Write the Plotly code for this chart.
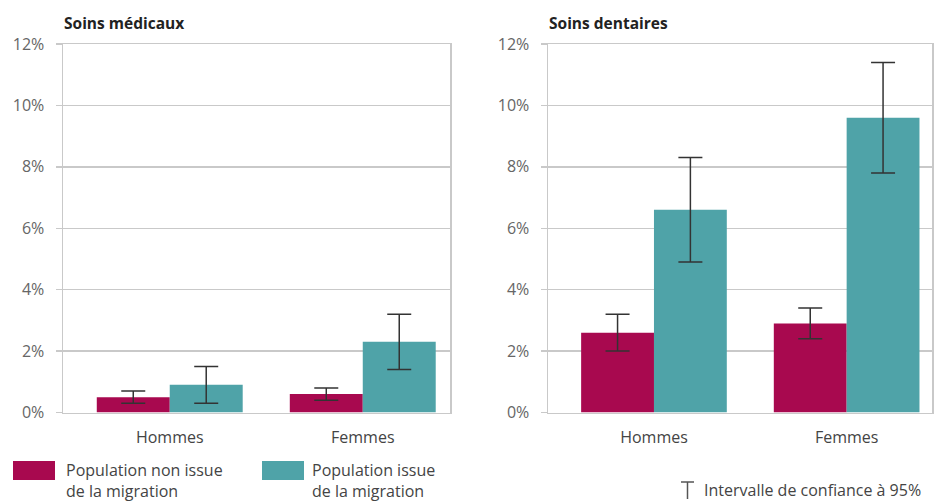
import plotly.graph_objects as go

categories = ["Hommes", "Femmes"]
series_names = ["Population non issue<br>de la migration", "Population issue<br>de la migration"]

# Soins médicaux (%)
med_non_mig = [0.5, 0.6]
med_non_mig_lo = [0.3, 0.4]
med_non_mig_hi = [0.7, 0.8]
med_mig = [0.9, 2.3]
med_mig_lo = [0.3, 1.4]
med_mig_hi = [1.5, 3.2]

# Soins dentaires (%)
den_non_mig = [2.6, 2.9]
den_non_mig_lo = [2.0, 2.4]
den_non_mig_hi = [3.2, 3.4]
den_mig = [6.6, 9.6]
den_mig_lo = [4.9, 7.8]
den_mig_hi = [8.3, 11.4]

y_ticks = [0, 2, 4, 6, 8, 10, 12]
y_tick_labels = ["0%", "2%", "4%", "6%", "8%", "10%", "12%"]

MAGENTA = "#A8094F"
TEAL = "#4FA3A8"
W, H = 934, 501
FONT = "Open Sans"
FS = 16

fig = go.Figure()

def add_bars(vals, lo, hi, color, xa, ya):
    fig.add_trace(go.Bar(
        x=categories, y=vals, marker=dict(color=color, line=dict(width=0)),
        error_y=dict(type="data", symmetric=False,
                     array=[h - v for h, v in zip(hi, vals)],
                     arrayminus=[v - l for v, l in zip(vals, lo)],
                     color="#333333", thickness=1.5, width=12),
        xaxis=xa, yaxis=ya, showlegend=False, hoverinfo="skip"))

add_bars(med_non_mig, med_non_mig_lo, med_non_mig_hi, MAGENTA, "x", "y")
add_bars(med_mig, med_mig_lo, med_mig_hi, TEAL, "x", "y")
add_bars(den_non_mig, den_non_mig_lo, den_non_mig_hi, MAGENTA, "x2", "y2")
add_bars(den_mig, den_mig_lo, den_mig_hi, TEAL, "x2", "y2")

grid = "#c9c9c9"
ydom = [1 - 412.5 / H, 1 - 44 / H]
xcommon = dict(showgrid=False, showline=True, linecolor=grid, linewidth=1.5, mirror=True,
               ticks="", tickfont=dict(family=FONT, size=FS, color="#444"), fixedrange=True,
               zeroline=False, automargin=False, ticklabelstandoff=10)
ycommon = dict(range=[0, 12], tickvals=y_ticks, ticktext=y_tick_labels, showgrid=True,
               gridcolor=grid, gridwidth=1.5, showline=True, linecolor=grid, linewidth=1.5,
               mirror=True, ticks="outside", ticklen=6, tickcolor=grid, tickwidth=1.5,
               tickfont=dict(family=FONT, size=FS, color="#666"), zeroline=False, domain=ydom,
               automargin=False, ticklabelstandoff=8, fixedrange=True)

fig.update_layout(
    width=W, height=H, margin=dict(l=0, r=0, t=0, b=0, autoexpand=False),
    paper_bgcolor="white", plot_bgcolor="white",
    barmode="group", bargap=0.244, bargroupgap=0,
    xaxis=dict(domain=[63 / W, 450 / W], range=[-0.553, 1.452], anchor="y", **xcommon),
    yaxis=dict(anchor="x", **ycommon),
    xaxis2=dict(domain=[548 / W, 932 / W], range=[-0.55, 1.443], anchor="y2", **xcommon),
    yaxis2=dict(anchor="x2", **ycommon),
    showlegend=False,
)

annots = [
    dict(text="<b>Soins médicaux</b>", x=62 / W, y=1 - 23 / H, xanchor="left", yanchor="middle",
         font=dict(family=FONT, size=FS - 0.5, color="#222")),
    dict(text="<b>Soins dentaires</b>", x=547 / W, y=1 - 23 / H, xanchor="left", yanchor="middle",
         font=dict(family=FONT, size=FS - 0.5, color="#222")),
    dict(text=series_names[0], x=64 / W, y=1 - 480 / H, xanchor="left", yanchor="middle", align="left",
         font=dict(family=FONT, size=FS, color="#444")),
    dict(text=series_names[1], x=310 / W, y=1 - 480 / H, xanchor="left", yanchor="middle", align="left",
         font=dict(family=FONT, size=FS, color="#444")),
    dict(text="Intervalle de confiance à 95%", x=702 / W, y=1 - 489.5 / H, xanchor="left", yanchor="middle",
         font=dict(family=FONT, size=FS, color="#444")),
]
for a in annots:
    a.update(xref="paper", yref="paper", showarrow=False)
fig.update_layout(annotations=annots)

shapes = [
    dict(type="rect", x0=13 / W, x1=55 / W, y0=1 - 480 / H, y1=1 - 461 / H, fillcolor=MAGENTA, line=dict(width=0)),
    dict(type="rect", x0=262 / W, x1=304 / W, y0=1 - 480 / H, y1=1 - 461 / H, fillcolor=TEAL, line=dict(width=0)),
    dict(type="line", x0=681 / W, x1=694 / W, y0=1 - 482 / H, y1=1 - 482 / H, line=dict(color="#555", width=1.5)),
    dict(type="line", x0=687.5 / W, x1=687.5 / W, y0=1 - 482 / H, y1=1 - 499 / H, line=dict(color="#555", width=1.5)),
]
for s in shapes:
    s.update(xref="paper", yref="paper")
fig.update_layout(shapes=shapes)

fig.write_html("out.html", config={"displayModeBar": False, "staticPlot": True},
               post_script="document.body.style.margin='0';document.body.style.overflow='hidden';")
